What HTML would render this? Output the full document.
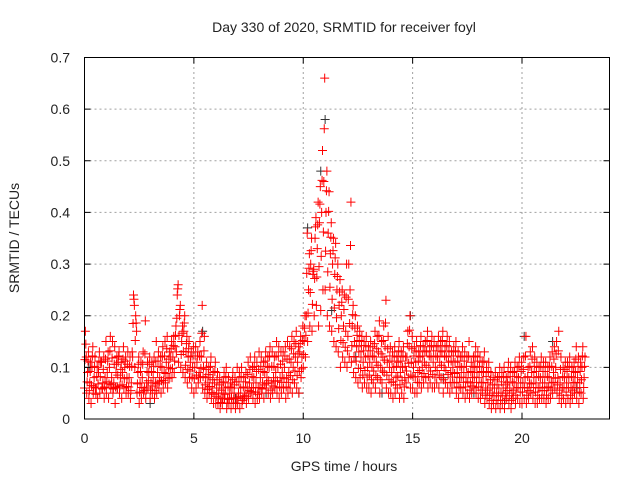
<!DOCTYPE html>
<html><head><meta charset="utf-8"><style>
body{margin:0;background:#fff}
svg{display:block;font-family:"Liberation Sans",sans-serif}
</style></head><body>
<svg id="chart" width="640" height="480" viewBox="0 0 640 480" xmlns="http://www.w3.org/2000/svg">
<rect width="640" height="480" fill="#fff"/>
<text x="344" y="32" font-size="14" text-anchor="middle" fill="#222">Day 330 of 2020, SRMTID for receiver foyl</text>
<text x="344" y="471" font-size="14" text-anchor="middle" fill="#222">GPS time / hours</text>
<text transform="translate(19,238) rotate(-90)" font-size="14" text-anchor="middle" fill="#222">SRMTID / TECUs</text>
<g id="grid"></g><g id="marks"></g><g id="axes"></g>
</svg>
<script>
const xTicks=[0,5,10,15,20];
const yTicks=[0,0.1,0.2,0.3,0.4,0.5,0.6,0.7];
const yTickLabels=["0","0.1","0.2","0.3","0.4","0.5","0.6","0.7"];
const startHour=0, stepHour=0.1;
const seriesA=[.17,.09,.07,.10,.08,.06,.09,.11,.07,.08, .09,.10,.08,.07,.09,.11,.08,.09,.10,.08, .08,.07,.24,.20,.09,.07,.08,.06,.07,.09, .07,.08,.07,.09,.08,.10,.09,.11,.10,.12, .12,.14,.24,.20,.15,.17,.13,.12,.11,.10, .10,.11,.09,.12,.10,.08,.07,.08,.06,.07, .06,.05,.04,.05,.06,.04,.05,.06,.05,.04, .05,.06,.04,.05,.06,.07,.06,.08,.07,.06, .08,.07,.09,.08,.10,.07,.08,.09,.10,.08, .09,.10,.08,.09,.11,.10,.12,.11,.13,.12, .15,.20,.25,.30,.28,.35,.33,.38,.40,.46, .40,.36,.32,.30,.28,.25,.22,.20,.18,.17, .16,.25,.18,.15,.14,.13,.12,.11,.12,.10, .11,.10,.12,.11,.13,.10,.12,.14,.11,.10, .09,.10,.08,.11,.09,.10,.08,.12,.14,.11, .10,.11,.09,.12,.10,.11,.13,.10,.12,.11, .10,.12,.11,.13,.10,.12,.11,.09,.10,.11, .09,.08,.10,.09,.08,.09,.07,.08,.10,.09, .08,.07,.09,.06,.07,.06,.05,.06,.05,.06, .05,.06,.05,.07,.06,.05,.07,.06,.08,.07, .07,.08,.06,.07,.09,.08,.07,.06,.08,.07, .07,.06,.08,.07,.09,.10,.08,.07,.06,.08, .07,.08,.06,.07,.09,.08,.07,.10,.08];
const seriesB=[.06,.05,.04,.03,.05,.06,.04,.05,.06,.04, .05,.04,.06,.05,.03,.06,.05,.04,.06,.05, .05,.04,.12,.10,.05,.03,.04,.05,.04,.06, .04,.05,.04,.05,.06,.05,.06,.07,.06,.08, .08,.09,.13,.11,.10,.09,.08,.07,.08,.06, .05,.06,.07,.08,.06,.05,.04,.05,.04,.03, .03,.03,.02,.03,.04,.02,.03,.02,.03,.02, .03,.02,.03,.04,.03,.04,.05,.04,.03,.04, .04,.05,.04,.06,.05,.04,.05,.06,.05,.04, .05,.06,.04,.05,.06,.05,.07,.06,.05,.08, .10,.12,.15,.18,.17,.20,.22,.18,.21,.25, .25,.20,.18,.17,.15,.14,.13,.10,.12,.11, .10,.12,.11,.09,.08,.07,.08,.06,.07,.06, .06,.05,.07,.06,.08,.05,.07,.09,.06,.05, .05,.04,.05,.06,.04,.05,.04,.07,.08,.06, .06,.05,.05,.07,.06,.07,.08,.06,.07,.06, .06,.07,.06,.08,.05,.07,.06,.05,.06,.07, .05,.04,.06,.05,.04,.05,.04,.05,.06,.05, .04,.04,.05,.03,.04,.03,.02,.03,.02,.03, .02,.03,.02,.04,.03,.02,.04,.03,.04,.03, .03,.04,.03,.04,.05,.04,.03,.03,.04,.04, .04,.03,.04,.04,.05,.06,.05,.04,.03,.04, .03,.04,.03,.04,.05,.04,.03,.05,.04];
const seriesC=[.12,.13,.11,.14,.12,.10,.13,.11,.12,.15, .13,.16,.15,.14,.12,.13,.11,.14,.12,.13, .12,.13,.22,.17,.12,.11,.13,.19,.11,.12, .11,.12,.15,.13,.12,.14,.15,.16,.13,.15, .16,.18,.26,.22,.18,.20,.16,.15,.13,.14, .14,.13,.15,.22,.16,.11,.10,.12,.09,.11, .09,.08,.07,.09,.10,.08,.07,.09,.08,.10, .09,.10,.08,.09,.11,.12,.10,.12,.11,.13, .12,.11,.13,.12,.14,.13,.12,.15,.14,.13, .13,.14,.15,.14,.16,.15,.17,.14,.16,.18, .20,.36,.32,.35,.29,.39,.42,.45,.52,.66, .48,.44,.38,.35,.34,.30,.27,.25,.24,.30, .30,.42,.22,.20,.18,.17,.16,.15,.16,.14, .15,.14,.17,.16,.19,.15,.18,.23,.16,.14, .13,.14,.12,.15,.13,.14,.12,.17,.20,.16, .14,.15,.13,.16,.14,.15,.17,.14,.16,.15, .14,.16,.15,.17,.14,.16,.15,.13,.14,.15, .13,.12,.14,.13,.12,.15,.11,.12,.14,.13, .12,.11,.13,.10,.11,.09,.08,.09,.08,.10, .09,.10,.08,.11,.10,.09,.11,.10,.12,.11, .12,.16,.10,.13,.14,.12,.11,.10,.12,.11, .11,.10,.12,.13,.14,.15,.17,.12,.10,.11, .11,.12,.10,.11,.14,.12,.11,.14,.12];
const seriesD=[.115,.072,.055,.065,.062,.048,.068,.082,.058,.062, .072,.068,.066,.058,.062,.085,.064,.066,.078,.063, .062,.055,.185,.152,.068,.052,.061,.055,.056,.074, .056,.064,.055,.068,.072,.074,.075,.088,.079,.097, .098,.112,.195,.162,.125,.131,.104,.096,.093,.081, .078,.085,.081,.098,.082,.066,.057,.063,.051,.048, .044,.041,.032,.039,.048,.031,.038,.041,.039,.031, .041,.043,.036,.045,.044,.055,.053,.061,.052,.048, .061,.058,.066,.069,.074,.056,.064,.073,.074,.062, .071,.078,.062,.071,.084,.076,.093,.084,.092,.097, .125,.162,.205,.245,.222,.272,.275,.295,.315,.362, .325,.285,.255,.232,.215,.196,.175,.152,.148,.139, .132,.185,.142,.121,.112,.098,.098,.085,.094,.081, .085,.076,.093,.084,.104,.076,.093,.114,.085,.076, .071,.072,.066,.083,.066,.075,.062,.093,.108,.085, .082,.081,.071,.094,.082,.088,.104,.082,.093,.086, .081,.094,.085,.104,.076,.094,.086,.071,.081,.088, .071,.062,.081,.071,.062,.072,.056,.064,.081,.071, .062,.056,.071,.046,.056,.046,.036,.045,.036,.045, .036,.045,.036,.055,.045,.036,.056,.046,.061,.052, .052,.061,.046,.055,.068,.061,.052,.046,.061,.055, .055,.046,.062,.056,.071,.079,.066,.056,.046,.061, .052,.061,.046,.056,.071,.061,.052,.076,.061];
const seriesE=[.145,.112,.092,.122,.102,.082,.112,.112,.096,.116, .112,.132,.118,.106,.106,.122,.096,.116,.112,.106, .102,.102,.232,.186,.106,.092,.106,.126,.092,.106, .092,.102,.112,.112,.102,.122,.122,.136,.116,.136, .142,.162,.252,.212,.166,.186,.146,.136,.122,.122, .122,.122,.122,.166,.132,.096,.086,.102,.076,.092, .076,.066,.056,.072,.082,.062,.062,.076,.066,.072, .072,.082,.062,.072,.086,.096,.082,.102,.092,.096, .102,.092,.112,.102,.122,.102,.102,.122,.122,.106, .112,.122,.116,.116,.136,.126,.146,.126,.146,.152, .176,.282,.292,.326,.286,.372,.376,.416,.462,.562, .442,.402,.352,.326,.312,.276,.246,.226,.212,.236, .232,.336,.202,.176,.162,.152,.142,.132,.142,.122, .132,.122,.146,.136,.162,.126,.152,.186,.136,.122, .112,.122,.102,.132,.112,.122,.102,.146,.172,.136, .122,.132,.112,.142,.122,.132,.152,.122,.142,.132, .122,.142,.132,.152,.122,.142,.132,.112,.122,.132, .112,.102,.122,.112,.102,.122,.092,.102,.122,.112, .102,.092,.112,.082,.092,.076,.066,.076,.066,.082, .072,.082,.066,.092,.082,.072,.092,.082,.102,.092, .096,.122,.082,.102,.116,.102,.092,.082,.102,.092, .092,.082,.102,.102,.116,.126,.132,.096,.082,.096, .092,.102,.082,.092,.116,.102,.092,.122,.102];
const blackTimes=[0.2,1.5,3.0,5.4,6.9,8.3,9.8,10.2,10.8,11.0,11.3,12.4,13.6,14.9,16.4,17.8,19.2,20.1,21.4,22.5];
const blackValues=[.10,.06,.03,.17,.04,.05,.05,.37,.48,.58,.21,.12,.05,.20,.08,.05,.03,.16,.15,.06];

const X0=84.5,X1=609.5,Y0=419,Y1=57.5,XMAX=24,YMAX=0.7;
const xs=v=>X0+(v/XMAX)*(X1-X0);
const ys=v=>Y0-(v/YMAX)*(Y0-Y1);
const NS="http://www.w3.org/2000/svg";
function mk(tag,attrs,parent){const e=document.createElementNS(NS,tag);for(const k in attrs)e.setAttribute(k,attrs[k]);parent.appendChild(e);return e;}
const grid=document.getElementById('grid'),marks=document.getElementById('marks'),axes=document.getElementById('axes');
xTicks.forEach(t=>{
 const x=xs(t);
 if(t>0){const g=mk('line',{x1:x,x2:x,y1:Y0,y2:Y1,stroke:'#a0a0a0','stroke-dasharray':'2,3','stroke-width':1},grid);
 
 }
 const tk=mk('path',{d:`M${x},${Y0}v-6M${x},${Y1}v6`,stroke:'#000','stroke-width':1},axes);
 
 
 const lb=mk('text',{x:x,y:443,'font-size':14,'text-anchor':'middle',fill:'#222'},axes);lb.textContent=String(t);
 
 
});
yTicks.forEach((t,i)=>{
 const y=ys(t);
 if(t>0&&t<YMAX){const g=mk('line',{x1:X0,x2:X1,y1:y,y2:y,stroke:'#a0a0a0','stroke-dasharray':'2,3','stroke-width':1},grid);
 
 }
 const tk=mk('path',{d:`M${X0},${y}h6M${X1},${y}h-6`,stroke:'#000','stroke-width':1},axes);
 
 
 const lb=mk('text',{x:70,y:y+5,'font-size':14,'text-anchor':'end',fill:'#222'},axes);lb.textContent=yTickLabels[i];
 
 
});
const frame=mk('rect',{x:X0,y:Y1,width:X1-X0,height:Y0-Y1,fill:'none',stroke:'#000','stroke-width':1},axes);


function plus(t,v,color,name){
 const x=xs(t),y=ys(v);
 const p=mk('path',{d:`M${x-4.5},${y}h9M${x},${y-4.5}v9`,stroke:color,'stroke-width':1},marks);
 
 
}
blackTimes.forEach((t,i)=>plus(t,blackValues[i],'#333','black-point'));
[[seriesB,0],[seriesD,0.02],[seriesA,0.04],[seriesE,0.06],[seriesC,0.08]].forEach(([s,off])=>{
 s.forEach((v,i)=>plus(startHour+i*stepHour+off,v,'#ff0000','red-point'));
});
</script>
</body></html>
